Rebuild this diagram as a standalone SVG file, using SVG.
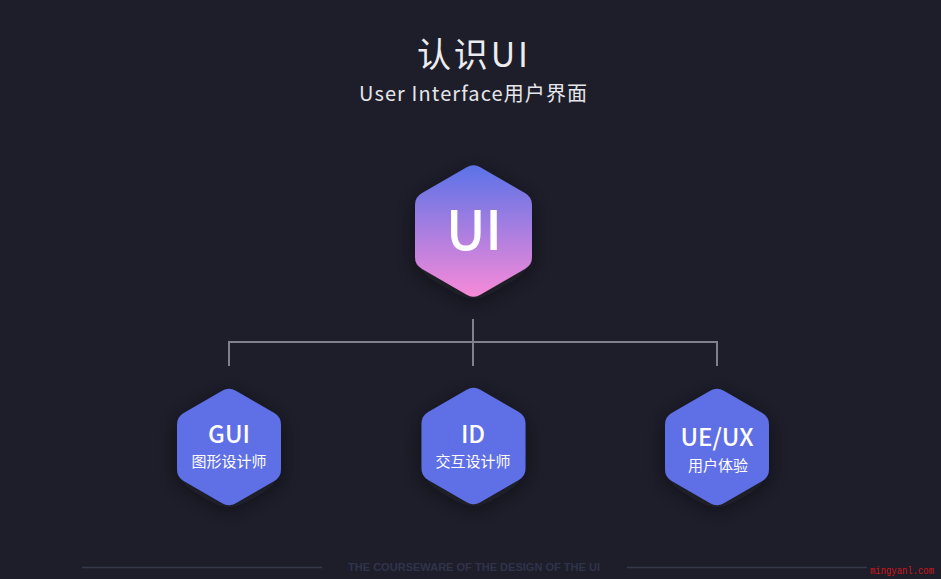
<svg xmlns="http://www.w3.org/2000/svg" xmlns:xlink="http://www.w3.org/1999/xlink" width="941" height="579" viewBox="0 0 941 579">
<defs>
<linearGradient id="gMain" gradientUnits="userSpaceOnUse" x1="0" y1="-66" x2="0" y2="66">
<stop offset="0" stop-color="#5a72e8"/>
<stop offset="1" stop-color="#f88ad8"/>
</linearGradient>
<filter id="shadow" x="-40%" y="-40%" width="180%" height="190%">
<feDropShadow dx="0" dy="5" stdDeviation="11" flood-color="#07080c" flood-opacity="0.5"/>
</filter>
<polygon id="hexS" points="0,-44.5 38.5,-22.25 38.5,22.25 0,44.5 -38.5,22.25 -38.5,-22.25"/>
<polygon id="hexL" points="0,-52 45,-26 45,26 0,52 -45,26 -45,-26"/>
</defs>
<style>
.bg{fill:#1d1e2a}
.hexs{fill:#5f6fe6;stroke:#5f6fe6;stroke-width:27;stroke-linejoin:round;filter:url(#shadow)}
.hexl{fill:url(#gMain);stroke:url(#gMain);stroke-width:27;stroke-linejoin:round;filter:url(#shadow)}
.t{font-family:"Noto Sans CJK SC","Noto Sans",sans-serif;fill:#ffffff;text-anchor:middle}
.big{font-size:24px;font-weight:500}
.sub{font-size:15px}
.conn{fill:none;stroke:#7f828e;stroke-width:2}
.foot{stroke:#363949;stroke-width:1.5}
</style>
<rect class="bg" x="0" y="0" width="941" height="579"/>
<g id="title">
<text class="t" x="417" y="67" style="font-size:34px;text-anchor:start;fill:#ececf0" textLength="111" lengthAdjust="spacing">认识UI</text>
<text class="t" x="359" y="101" style="font-size:20px;text-anchor:start;fill:#e6e6ea" textLength="228" lengthAdjust="spacing">User Interface用户界面</text>
</g>
<g id="connectors">
<path class="conn" d="M473,319 V366 M229,366 V342 H717 V366"/>
</g>
<g id="node-ui">
<use xlink:href="#hexL" class="hexl" x="473.5" y="231"/>
<text class="t" x="446" y="250" style="font-size:54px;text-anchor:start;font-weight:500" textLength="56" lengthAdjust="spacing">UI</text>
</g>
<g id="node-gui">
<use xlink:href="#hexS" class="hexs" x="229" y="447"/>
<text class="t big" x="229" y="443">GUI</text>
<text class="t sub" x="229" y="467">图形设计师</text>
</g>
<g id="node-id">
<use xlink:href="#hexS" class="hexs" x="473.5" y="446"/>
<text class="t big" x="473" y="443">ID</text>
<text class="t sub" x="473" y="467">交互设计师</text>
</g>
<g id="node-ueux">
<use xlink:href="#hexS" class="hexs" x="717" y="447"/>
<text class="t big" x="717" y="446">UE/UX</text>
<text class="t sub" x="718" y="471">用户体验</text>
</g>
<g id="footer">
<line class="foot" x1="82" y1="567.5" x2="322" y2="567.5"/>
<line class="foot" x1="627" y1="567.5" x2="867" y2="567.5"/>
<text x="348" y="571" style="font-family:'Liberation Sans',sans-serif;font-size:11px;font-weight:bold;fill:#31334a" textLength="252" lengthAdjust="spacingAndGlyphs">THE COURSEWARE OF THE DESIGN OF THE UI</text>
<text x="870" y="574" style="font-family:'Liberation Mono',monospace;font-size:10px;fill:#d0151c" textLength="64" lengthAdjust="spacingAndGlyphs">mingyanl.com</text>
</g>
</svg>
